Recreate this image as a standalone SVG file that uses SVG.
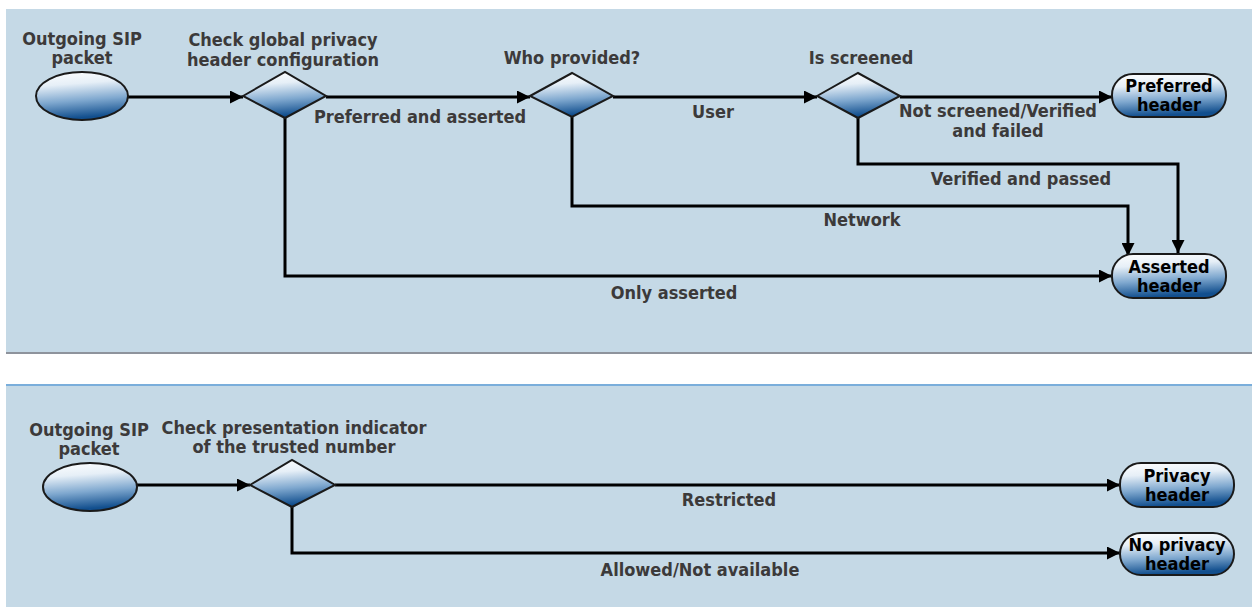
<svg xmlns="http://www.w3.org/2000/svg" width="1252" height="607" viewBox="0 0 1252 607">
<defs>
<linearGradient id="g" x1="0" y1="0" x2="0.15" y2="1">
<stop offset="0" stop-color="#ffffff"/>
<stop offset="0.3" stop-color="#e6eff7"/>
<stop offset="0.65" stop-color="#7fa8cf"/>
<stop offset="1" stop-color="#124f8e"/>
</linearGradient>
<marker id="ah" viewBox="0 0 13 13" refX="13" refY="6.5" markerWidth="13" markerHeight="13" markerUnits="userSpaceOnUse" orient="auto">
<path d="M0,0 L13,6.5 L0,13 Z" fill="#000"/>
</marker>
<style>
.shape{fill:url(#g);stroke:#1a1a1a;stroke-width:2}
.c{fill:none;stroke:#000;stroke-width:3;marker-end:url(#ah)}
.t{font-family:"DejaVu Sans Condensed","DejaVu Sans",sans-serif;font-weight:bold;font-size:18px;fill:#3c3a3a;text-anchor:middle}
.n{font-family:"DejaVu Sans Condensed","DejaVu Sans",sans-serif;font-weight:bold;font-size:18px;fill:#000;text-anchor:middle}
</style>
</defs>
<rect width="1252" height="607" fill="#ffffff"/>
<rect x="6" y="9" width="1246" height="344" fill="#c5d9e6"/>
<line x1="6" y1="353" x2="1252" y2="353" stroke="#8e939c" stroke-width="2"/>
<rect x="6" y="385" width="1246" height="222" fill="#c5d9e6"/>
<line x1="6" y1="385" x2="1252" y2="385" stroke="#7aaedb" stroke-width="2"/>

<g id="connectors">
<path class="c" d="M128,97 H243"/>
<path class="c" d="M326,97 H530"/>
<path class="c" d="M613,97 H817"/>
<path class="c" d="M900,97 H1112"/>
<path class="c" d="M858,118 V164 H1178 V253"/>
<path class="c" d="M572,117 V206 H1128 V256"/>
<path class="c" d="M285,118 V276 H1112"/>
<path class="c" d="M137,485 H250"/>
<path class="c" d="M335,485 H1120"/>
<path class="c" d="M292,507 V553 H1120"/>
<text class="t" x="420" y="123">Preferred and asserted</text>
<text class="t" x="713" y="118">User</text>
<text class="t" x="998" y="117">Not screened/Verified</text>
<text class="t" x="998" y="137">and failed</text>
<text class="t" x="1021" y="185">Verified and passed</text>
<text class="t" x="862" y="226">Network</text>
<text class="t" x="674" y="299">Only asserted</text>
<text class="t" x="729" y="506">Restricted</text>
<text class="t" x="700" y="576">Allowed/Not available</text>
</g>

<g id="start1">
<ellipse class="shape" cx="82" cy="96" rx="46" ry="24"/>
<text class="t" x="82" y="45">Outgoing SIP</text>
<text class="t" x="82" y="64">packet</text>
</g>
<g id="check-global">
<path class="shape" d="M243,96 L285,72 L326,96 L285,118 Z"/>
<text class="t" x="283" y="46">Check global privacy</text>
<text class="t" x="283" y="66">header configuration</text>
</g>
<g id="who-provided">
<path class="shape" d="M530,96 L572,73 L613,96 L572,117 Z"/>
<text class="t" x="572" y="64">Who provided?</text>
</g>
<g id="is-screened">
<path class="shape" d="M817,96 L858,73 L900,96 L858,118 Z"/>
<text class="t" x="861" y="64">Is screened</text>
</g>
<g id="preferred-header">
<rect class="shape" x="1112" y="74" width="114" height="43" rx="21"/>
<text class="n" x="1169" y="92">Preferred</text>
<text class="n" x="1169" y="111">header</text>
</g>
<g id="asserted-header">
<rect class="shape" x="1112" y="254" width="114" height="44" rx="21"/>
<text class="n" x="1169" y="273">Asserted</text>
<text class="n" x="1169" y="292">header</text>
</g>

<g id="start2">
<ellipse class="shape" cx="90" cy="487" rx="47" ry="24"/>
<text class="t" x="89" y="436">Outgoing SIP</text>
<text class="t" x="89" y="455">packet</text>
</g>
<g id="check-presentation">
<path class="shape" d="M250,485 L292,460 L335,485 L292,507 Z"/>
<text class="t" x="294" y="434">Check presentation indicator</text>
<text class="t" x="294" y="453">of the trusted number</text>
</g>
<g id="privacy-header">
<rect class="shape" x="1120" y="463" width="114" height="44" rx="21"/>
<text class="n" x="1177" y="482">Privacy</text>
<text class="n" x="1177" y="501">header</text>
</g>
<g id="no-privacy-header">
<rect class="shape" x="1120" y="533" width="114" height="42" rx="21"/>
<text class="n" x="1177" y="551">No privacy</text>
<text class="n" x="1177" y="570">header</text>
</g>
</svg>
